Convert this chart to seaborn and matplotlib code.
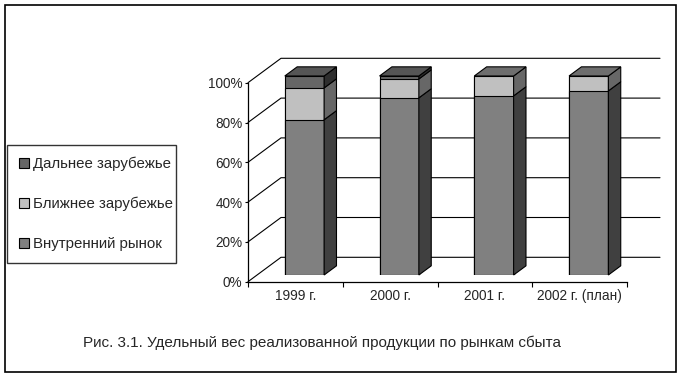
import numpy as np
import pandas as pd
import matplotlib
matplotlib.use("Agg")
import matplotlib.pyplot as plt
from matplotlib.patches import Polygon, Rectangle, Patch
import seaborn as sns

# ---------------- data ----------------
years = ["1999 г.", "2000 г.", "2001 г.", "2002 г. (план)"]
domestic = [78.0, 89.0, 90.0, 92.5]
near_abroad = [16.0, 9.5, 10.0, 7.5]
far_abroad = [6.0, 1.5, 0.0, 0.0]
series_names = ["Дальнее зарубежье", "Ближнее зарубежье", "Внутренний рынок"]
y_ticks = [0, 20, 40, 60, 80, 100]
caption = "Рис. 3.1. Удельный вес реализованной продукции по рынкам сбыта"

# ---------------- style ----------------
sns.set_style("white")
plt.rcParams["font.family"] = ["Liberation Sans", "DejaVu Sans"]

dom_front, dom_side = "#808080", "#404040"
near_front, near_side, near_top = "#c0c0c0", "#676767", "#6e6e6e"
far_front, far_side, far_top = "#666666", "#2e2e2e", "#555555"

W, H = 681, 377
fig = plt.figure(figsize=(W / 100, H / 100), dpi=100)

# ---------------- geometry (pixels) ----------------
px_per_cat = 94.75
px_per_pct = 1.99
x0_px, y0_px = 248.0, 281.7          # front origin, image coords
depth_px = (33.0, 24.4)
DX = depth_px[0] / px_per_cat
DY = depth_px[1] / px_per_pct
xlim = (-0.5, 3.9)
ylim = (0, 113)
ax_w = (xlim[1] - xlim[0]) * px_per_cat
ax_h = (ylim[1] - ylim[0]) * px_per_pct

ax = fig.add_axes([x0_px / W, (H - y0_px) / H, ax_w / W, ax_h / H])
ax.set_xlim(xlim)
ax.set_ylim(ylim)
ax.patch.set_alpha(0)
for s in ["top", "right"]:
    ax.spines[s].set_visible(False)
for s in ["left", "bottom"]:
    ax.spines[s].set_color("black")
    ax.spines[s].set_linewidth(0.9)
ax.spines["left"].set_bounds(0, 100)
ax.spines["bottom"].set_bounds(-0.5, 3.5)

ax.set_yticks(y_ticks)
ax.set_yticklabels([f"{t}%" for t in y_ticks], fontsize=9.8)
ax.tick_params(axis="y", direction="out", length=2.5, width=0.8, color="black", pad=1.5, left=True)
ax.set_xticks([-0.5, 0.5, 1.5, 2.5, 3.5])
ax.set_xticklabels([""] * 5)
ax.set_xticks(range(len(years)), minor=True)
ax.set_xticklabels(years, minor=True, fontsize=9.8)
ax.tick_params(axis="x", which="major", direction="out", length=3.5, width=0.8, color="black", bottom=True)
ax.tick_params(axis="x", which="minor", length=0, pad=5.5)

# gridlines: left wall diagonals + back wall horizontals
for t in y_ticks:
    ax.plot([-0.5, -0.5 + DX, 3.5 + DX], [t, t + DY, t + DY],
            color="black", lw=0.8, clip_on=False, zorder=1)

# ---------------- bars ----------------
f0 = 0.275      # depth position of bar front
fd = 0.375      # bar depth fraction
axb = fig.add_axes([(x0_px + f0 * depth_px[0]) / W,
                    (H - y0_px + f0 * depth_px[1]) / H, ax_w / W, ax_h / H])

df = pd.DataFrame({"year": years, "dom": domestic, "near": near_abroad, "far": far_abroad})
df["mid"] = df["dom"] + df["near"]
df["top"] = df["mid"] + df["far"]

bar_w = 0.415
for col, color in [("top", far_front), ("mid", near_front), ("dom", dom_front)]:
    sns.barplot(data=df, x="year", y=col, color=color, saturation=1, width=bar_w,
                edgecolor="black", linewidth=0.8, errorbar=None, ax=axb, order=years)

axb.set_xlim(xlim)
axb.set_ylim(ylim)
axb.axis("off")

ddx, ddy = fd * DX, fd * DY
for i in range(len(years)):
    l, r = i - bar_w / 2, i + bar_w / 2
    segs = [(0, df["dom"][i], dom_side, dom_front),
            (df["dom"][i], df["mid"][i], near_side, near_top),
            (df["mid"][i], df["top"][i], far_side, far_top)]
    top_col = None
    for b, t, sc, tc in segs:
        if t - b <= 0:
            continue
        axb.add_patch(Polygon([(r, b), (r + ddx, b + ddy), (r + ddx, t + ddy), (r, t)],
                              closed=True, fc=sc, ec="black", lw=0.8, zorder=5, clip_on=False))
        top_col = tc
    T = df["top"][i]
    axb.add_patch(Polygon([(l, T), (l + ddx, T + ddy), (r + ddx, T + ddy), (r, T)],
                          closed=True, fc=top_col, ec="black", lw=0.8, zorder=5, clip_on=False))

# ---------------- legend ----------------
handles = [Patch(fc=far_front, ec="black", lw=0.8, label=series_names[0]),
           Patch(fc=near_front, ec="black", lw=0.8, label=series_names[1]),
           Patch(fc=dom_front, ec="black", lw=0.8, label=series_names[2])]
leg = fig.legend(handles=handles, loc="upper left", mode="expand",
                 bbox_to_anchor=(7.3 / W, (H - 265.7) / H, 168.4 / W, 120.7 / H),
                 frameon=True, fancybox=False, edgecolor="black", fontsize=10.8,
                 handlelength=0.65, handleheight=0.65, handletextpad=0.3,
                 labelspacing=1.73, borderpad=0.78, borderaxespad=0)
leg.get_frame().set_linewidth(1.0)

# ---------------- caption & border ----------------
fig.text(321.7 / W, (H - 343) / H, caption, ha="center", va="center", fontsize=11)
fig.add_artist(Rectangle((5 / W, 5 / H), 671 / W, 367 / H, transform=fig.transFigure,
                         fill=False, ec="black", lw=1.2))

fig.savefig("out.png", dpi=100)
